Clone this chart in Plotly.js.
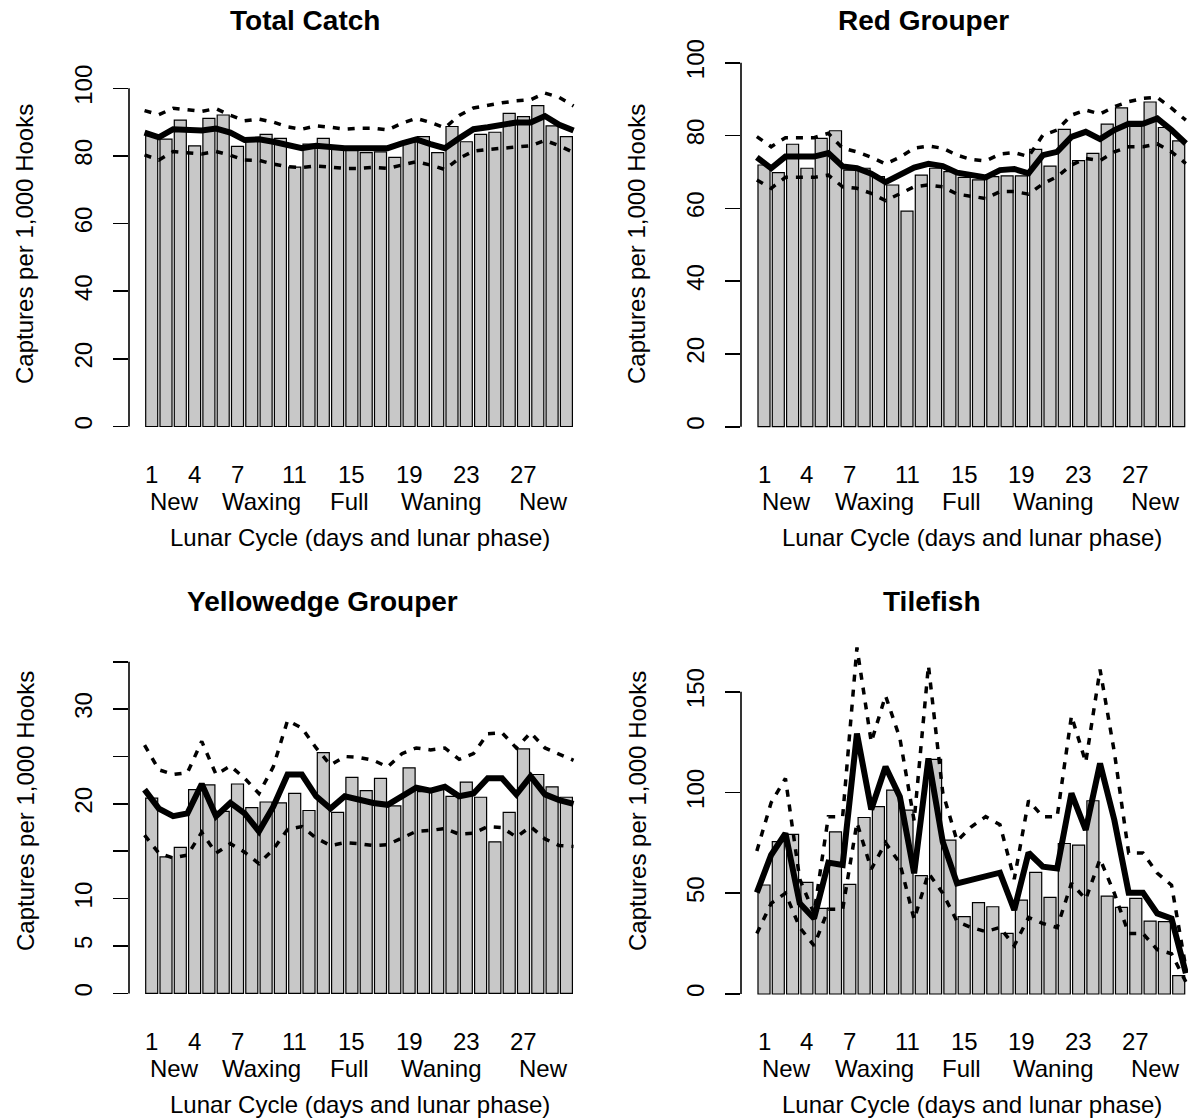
<!DOCTYPE html>
<html>
<head>
<meta charset="utf-8">
<script src="https://cdn.plot.ly/plotly-3.0.1.min.js"></script>
<style>
  html, body { margin: 0; padding: 0; background: #ffffff; }
  #chart { width: 1188px; height: 1118px; }
</style>
</head>
<body>
<div id="chart"></div>
<script>
// Lunar cycle days (bars) and the 31 day-boundary points used by the model curves
const days = [1, 2, 3, 4, 5, 6, 7, 8, 9, 10, 11, 12, 13, 14, 15, 16, 17, 18, 19, 20, 21, 22, 23, 24, 25, 26, 27, 28, 29, 30];
const curveDays = [0.5, 1.5, 2.5, 3.5, 4.5, 5.5, 6.5, 7.5, 8.5, 9.5, 10.5, 11.5, 12.5, 13.5, 14.5, 15.5,
                   16.5, 17.5, 18.5, 19.5, 20.5, 21.5, 22.5, 23.5, 24.5, 25.5, 26.5, 27.5, 28.5, 29.5, 30.5];
const dayTickLabels = [1, 4, 7, 11, 15, 19, 23, 27];
const phaseNames = ['New', 'Waxing', 'Full', 'Waning', 'New'];
const phaseDays = [2.6, 8.7, 14.8, 21.2, 28.4];

// Total Catch
const totalObs = [86.0, 85.0, 90.6, 83.0, 91.1, 92.1, 82.8, 84.4, 86.4, 85.2, 76.7, 83.5, 85.2, 82.5, 82.0,
                  81.0, 81.2, 79.6, 84.0, 85.7, 81.0, 88.7, 84.2, 86.4, 87.0, 92.6, 91.6, 94.9, 88.9, 85.7];
const totalFit = [86.9, 85.5, 87.9, 87.7, 87.5, 88.1, 86.9, 84.7, 84.9, 84.2, 83.3, 82.3, 83.0, 82.6, 82.3, 82.3,
                  82.5, 82.3, 83.7, 84.9, 83.5, 82.3, 85.2, 87.9, 88.5, 89.2, 89.9, 89.9, 91.8, 89.2, 87.5];
const totalUpper = [93.4, 92.2, 94.1, 93.6, 93.2, 94.0, 92.0, 90.4, 90.9, 90.0, 88.6, 87.9, 88.9, 88.5, 87.9, 88.2,
                    88.2, 87.7, 89.7, 91.1, 89.9, 88.3, 92.0, 94.2, 95.0, 95.7, 96.3, 96.6, 98.6, 97.3, 94.8];
const totalLower = [80.3, 78.8, 81.3, 81.0, 80.6, 81.3, 80.2, 78.8, 78.7, 77.6, 76.8, 76.6, 77.0, 76.7, 76.3, 76.3,
                    76.6, 76.3, 77.2, 78.3, 77.3, 76.0, 79.3, 81.4, 81.9, 82.3, 82.8, 83.0, 84.6, 83.0, 81.0];

// Red Grouper
const redObs = [71.9, 69.8, 77.6, 71.0, 79.2, 81.3, 70.5, 71.0, 68.7, 66.4, 59.2, 69.1, 71.0, 70.1, 68.5,
                67.8, 68.7, 68.9, 68.9, 76.2, 71.6, 81.7, 73.1, 75.1, 83.1, 87.6, 82.5, 89.2, 82.2, 78.5];
const redFit = [74.0, 71.0, 74.2, 74.2, 74.2, 75.2, 71.5, 71.0, 69.5, 67.2, 69.3, 71.2, 72.2, 71.6, 69.8, 69.0,
                68.5, 70.5, 70.8, 69.6, 74.6, 75.5, 79.6, 81.0, 79.0, 81.5, 83.2, 83.2, 84.7, 81.5, 77.8];
const redUpper = [79.7, 76.9, 79.4, 79.4, 79.4, 80.6, 76.5, 75.5, 74.0, 72.2, 74.0, 76.5, 77.1, 76.5, 74.6, 73.4,
                  73.0, 74.9, 75.3, 74.2, 80.1, 81.5, 85.6, 87.0, 85.9, 87.9, 89.3, 90.2, 90.5, 87.5, 84.2];
const redLower = [67.8, 65.5, 68.5, 68.5, 68.5, 69.1, 65.9, 65.5, 64.1, 62.1, 64.1, 65.9, 66.4, 65.9, 63.9, 63.2,
                  62.7, 64.6, 64.6, 63.9, 66.7, 68.7, 71.9, 73.7, 73.1, 75.5, 76.9, 76.9, 77.7, 75.5, 72.3];

// Yellowedge Grouper
const yellowObs = [20.6, 14.4, 15.4, 21.5, 22.0, 19.2, 22.1, 19.6, 20.2, 20.1, 21.1, 19.3, 25.4, 19.1, 22.8,
                   21.4, 22.7, 19.8, 23.8, 21.3, 21.6, 20.8, 22.3, 20.7, 16.0, 19.1, 25.8, 23.1, 21.8, 20.7];
const yellowFit = [21.5, 19.5, 18.7, 19.0, 22.1, 18.7, 20.1, 19.0, 17.1, 19.7, 23.1, 23.1, 20.8, 19.5, 20.8, 20.4,
                   20.1, 19.9, 20.8, 21.7, 21.4, 21.8, 20.8, 21.1, 22.7, 22.7, 21.0, 22.9, 21.0, 20.4, 20.0];
const yellowUpper = [26.2, 23.6, 23.1, 23.3, 26.6, 23.1, 24.0, 22.7, 21.1, 23.9, 28.8, 28.0, 25.9, 24.1, 25.0, 24.9,
                     24.6, 23.9, 25.3, 25.9, 25.7, 25.9, 24.7, 25.3, 27.4, 27.5, 25.9, 27.5, 25.9, 25.2, 24.6];
const yellowLower = [16.7, 14.8, 14.3, 14.6, 17.0, 14.8, 15.8, 14.9, 13.7, 15.2, 17.3, 17.6, 16.4, 15.6, 15.9, 15.8,
                     15.6, 15.7, 16.4, 17.1, 17.2, 17.4, 16.8, 16.9, 17.6, 17.5, 16.5, 17.6, 16.3, 15.6, 15.5];

// Tilefish
const tileObs = [54.1, 75.6, 79.2, 55.4, 42.5, 80.5, 54.4, 87.6, 93.0, 101.2, 91.3, 58.7, 116.4, 76.4, 38.4,
                 45.3, 43.3, 30.1, 46.6, 60.4, 48.0, 74.7, 73.9, 95.9, 48.6, 43.0, 47.5, 36.2, 35.9, 9.1];
const tileFit = [50.3, 69.0, 79.7, 45.0, 37.5, 65.2, 64.0, 129.3, 91.6, 112.8, 97.9, 59.9, 116.9, 75.6, 54.9, 56.5,
                 58.5, 60.2, 41.7, 70.1, 63.2, 62.3, 99.6, 81.4, 114.4, 86.3, 50.3, 50.3, 40.0, 37.5, 10.3];
const tileUpper = [71, 95, 107, 57, 40, 88, 88, 172, 125, 148, 127, 86, 163, 100, 76, 83,
                   88, 84, 57, 96, 88, 88, 138, 115, 161, 120, 70, 70, 60, 54, 13];
const tileLower = [30, 45, 50, 33, 24, 42, 42, 85, 62, 75, 65, 37, 60, 50, 36, 33,
                   31, 33, 24, 38, 35, 33, 55, 47, 67, 50, 30, 30, 22, 20, 6];

// Panel contents
const panels = [
  { title: 'Total Catch', obs: totalObs, fit: totalFit, upper: totalUpper, lower: totalLower,
    yTicks: [0, 20, 40, 60, 80, 100], yText: ['0', '20', '40', '60', '80', '100'] },
  { title: 'Red Grouper', obs: redObs, fit: redFit, upper: redUpper, lower: redLower,
    yTicks: [0, 20, 40, 60, 80, 100], yText: ['0', '20', '40', '60', '80', '100'] },
  { title: 'Yellowedge Grouper', obs: yellowObs, fit: yellowFit, upper: yellowUpper, lower: yellowLower,
    yTicks: [0, 5, 10, 15, 20, 25, 30, 35], yText: ['0', '5', '10', '', '20', '', '30', ''] },
  { title: 'Tilefish', obs: tileObs, fit: tileFit, upper: tileUpper, lower: tileLower,
    yTicks: [0, 50, 100, 150], yText: ['0', '50', '100', '150'] }
];

// Page geometry (pixels)
const W = 1188, H = 1118, STEP = 14.3, PANEL_W = 461;
const geom = [
  { axisX: 129, day1X: 151.7, zeroY: 426.5, ppu: 3.382, top: 40,  bottom: 441,  titleX: 305, titleY: 21,  row: 0 },
  { axisX: 741, day1X: 764,   zeroY: 426.7, ppu: 3.640, top: 40,  bottom: 441,  titleX: 923, titleY: 21,  row: 0 },
  { axisX: 129, day1X: 151.7, zeroY: 993.4, ppu: 9.476, top: 600, bottom: 1008, titleX: 322, titleY: 601, row: 1 },
  { axisX: 741, day1X: 764,   zeroY: 994.0, ppu: 2.015, top: 600, bottom: 1008, titleX: 932, titleY: 601, row: 1 }
];
const ROW_SHIFT = 567;
const FONT = 'Liberation Sans, Arial, Helvetica, sans-serif';
const px = v => v / W;
const py = v => 1 - v / H;

const data = [];
const layout = {
  width: W, height: H,
  margin: { l: 0, r: 0, t: 0, b: 0 },
  paper_bgcolor: '#ffffff', plot_bgcolor: 'rgba(0,0,0,0)',
  showlegend: false, bargap: 0.16,
  font: { family: FONT, color: '#000000', size: 24 },
  annotations: [], shapes: []
};

panels.forEach((p, i) => {
  const g = geom[i];
  const n = i === 0 ? '' : String(i + 1);
  const xa = 'x' + n, ya = 'y' + n;
  const right = Math.min(g.axisX + PANEL_W, W);

  layout['xaxis' + n] = {
    domain: [px(g.axisX), px(right)],
    range: [1 - (g.day1X - g.axisX) / STEP, 1 + (right - g.day1X) / STEP],
    visible: false, anchor: ya, fixedrange: true
  };
  layout['yaxis' + n] = {
    domain: [py(g.bottom), py(g.top)],
    range: [(g.zeroY - g.bottom) / g.ppu, (g.zeroY - g.top) / g.ppu],
    anchor: xa, showgrid: false, zeroline: false, showline: false,
    tickmode: 'array', tickvals: p.yTicks, ticktext: p.yText,
    ticks: 'outside', ticklen: 15, tickwidth: 1.6, tickcolor: '#000000',
    tickangle: -90, ticklabelstandoff: 11,
    tickfont: { family: FONT, size: 24, color: '#000000' }, fixedrange: true
  };

  // y axis line spanning the labelled tick range
  layout.shapes.push({
    type: 'line', xref: xa + ' domain', yref: ya,
    x0: 0, x1: 0, y0: p.yTicks[0], y1: p.yTicks[p.yTicks.length - 1],
    line: { color: '#000000', width: 1.6 }
  });

  data.push({
    type: 'bar', x: days, y: p.obs, xaxis: xa, yaxis: ya,
    marker: { color: '#c8c8c8', line: { color: '#000000', width: 1.2 } },
    hoverinfo: 'skip'
  });
  [p.upper, p.lower].forEach(band => data.push({
    type: 'scatter', mode: 'lines', x: curveDays, y: band, xaxis: xa, yaxis: ya,
    line: { color: '#000000', width: 3.5, dash: '7px,8px' }, hoverinfo: 'skip'
  }));
  data.push({
    type: 'scatter', mode: 'lines', x: curveDays, y: p.fit, xaxis: xa, yaxis: ya,
    line: { color: '#000000', width: 6 }, hoverinfo: 'skip'
  });

  const shift = g.row * ROW_SHIFT;
  // panel title
  layout.annotations.push({
    xref: 'paper', yref: 'paper', x: px(g.titleX), y: py(g.titleY),
    xanchor: 'center', yanchor: 'middle', showarrow: false,
    text: '<b>' + p.title + '</b>', font: { family: FONT, size: 28, color: '#000000' }
  });
  // day numbers
  dayTickLabels.forEach(d => layout.annotations.push({
    xref: xa, yref: 'paper', x: d, y: py(474 + shift),
    xanchor: 'center', yanchor: 'middle', showarrow: false,
    text: String(d), font: { family: FONT, size: 24, color: '#000000' }
  }));
  // lunar phases
  phaseNames.forEach((name, k) => layout.annotations.push({
    xref: xa, yref: 'paper', x: phaseDays[k], y: py(501 + shift),
    xanchor: 'center', yanchor: 'middle', showarrow: false,
    text: name, font: { family: FONT, size: 24, color: '#000000' }
  }));
  // x axis title
  layout.annotations.push({
    xref: 'paper', yref: 'paper', x: px((g.axisX + g.axisX + PANEL_W) / 2), y: py(537 + shift),
    xanchor: 'center', yanchor: 'middle', showarrow: false,
    text: 'Lunar Cycle (days and lunar phase)', font: { family: FONT, size: 24, color: '#000000' }
  });
  // y axis title
  layout.annotations.push({
    xref: 'paper', yref: 'paper', x: px(g.axisX - 104), y: py(244 + shift),
    xanchor: 'center', yanchor: 'middle', showarrow: false, textangle: -90,
    text: 'Captures per 1,000 Hooks', font: { family: FONT, size: 24, color: '#000000' }
  });
});

Plotly.newPlot('chart', data, layout, { staticPlot: true, displayModeBar: false });
</script>
</body>
</html>
